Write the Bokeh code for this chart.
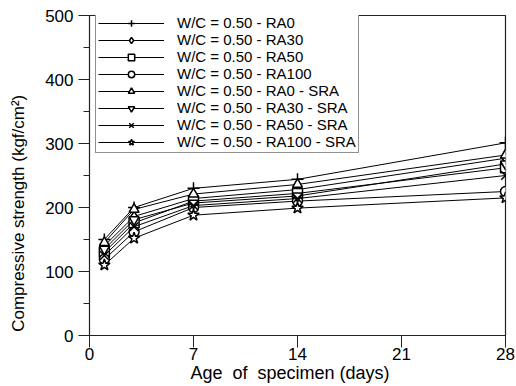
from bokeh.plotting import figure
from bokeh.models import Range1d, FixedTicker, Legend, LegendItem
from bokeh.embed import file_html
from bokeh.resources import INLINE

days = [1, 3, 7, 14, 28]
labels = [
    "W/C = 0.50 - RA0",
    "W/C = 0.50 - RA30",
    "W/C = 0.50 - RA50",
    "W/C = 0.50 - RA100",
    "W/C = 0.50 - RA0 - SRA",
    "W/C = 0.50 - RA30 - SRA",
    "W/C = 0.50 - RA50 - SRA",
    "W/C = 0.50 - RA100 - SRA",
]
ra0 = [150, 200, 230, 244, 301]
ra30 = [140, 186, 214, 228, 277]
ra50 = [130, 176, 210, 222, 262]
ra100 = [119, 162, 200, 210, 225]
ra0_sra = [145, 197, 221, 236, 282]
ra30_sra = [135, 181, 207, 218, 268]
ra50_sra = [125, 170, 203, 214, 250]
ra100_sra = [110, 152, 188, 199, 215]
series = [ra0, ra30, ra50, ra100, ra0_sra, ra30_sra, ra50_sra, ra100_sra]
markers = ["cross", "diamond", "square", "circle", "triangle",
           "inverted_triangle", "x", "star"]
x_ticks = [0, 7, 14, 21, 28]
y_ticks = [0, 100, 200, 300, 400, 500]

FONT = "Liberation Sans"
NB = "\u00a0"

p = figure(width=516, height=386, output_backend="svg", toolbar_location=None,
           x_range=Range1d(0, 28), y_range=Range1d(0, 500),
           min_border_left=89, min_border_right=11, min_border_top=15,
           min_border_bottom=51)
p.xgrid.visible = False
p.ygrid.visible = False
p.outline_line_color = "#222222"
p.outline_line_width = 1.2
p.background_fill_color = "white"
p.border_fill_color = "white"

items = []
for vals, mk, lab in zip(series, markers, labels):
    r1 = p.line(days, vals, line_color="black", line_width=1)
    size = 12 if mk in ("cross", "x", "star") else 10
    r2 = p.scatter(days, vals, marker=mk, size=size, line_color="black",
                   fill_color="white", line_width=1.5)
    items.append(LegendItem(label=lab, renderers=[r1, r2]))

leg = Legend(items=items, location=(6, 182), margin=0, padding=2,
             spacing=0, glyph_width=66, glyph_height=16, label_height=16,
             label_standoff=13, label_text_font=FONT, label_text_color="black",
             label_text_font_size="15px", border_line_color="#222222",
             border_line_width=1, background_fill_alpha=1)
p.add_layout(leg)

p.xaxis.ticker = FixedTicker(ticks=x_ticks)
p.yaxis.ticker = FixedTicker(ticks=y_ticks, minor_ticks=[50, 150, 250, 350, 450])
p.xaxis.axis_label = "Age" + NB * 2 + "of" + NB * 2 + "specimen (days)" + NB * 3
p.yaxis.axis_label = "Compressive strength (kgf/cm\u00b2)" + NB * 16
for ax in (p.xaxis, p.yaxis):
    ax.axis_label_text_font = FONT
    ax.axis_label_text_font_style = "normal"
    ax.axis_label_text_color = "black"
    ax.major_label_text_font = FONT
    ax.major_label_text_font_size = "17px"
    ax.major_label_text_color = "black"
    ax.axis_line_color = "#222222"
    ax.major_tick_line_color = "#222222"
    ax.minor_tick_line_color = "#222222"
    ax.major_tick_in = 0
    ax.minor_tick_in = 0
p.xaxis.axis_label_text_font_size = "18px"
p.yaxis.axis_label_text_font_size = "17px"
p.xaxis.major_tick_out = 12
p.xaxis.minor_tick_out = 0
p.yaxis.major_tick_out = 11
p.yaxis.minor_tick_out = 6
p.xaxis.major_label_standoff = 0
p.yaxis.major_label_standoff = 5
p.xaxis.axis_label_standoff = 0
p.yaxis.axis_label_standoff = 14

open("out.html", "w").write(file_html(p, INLINE))
